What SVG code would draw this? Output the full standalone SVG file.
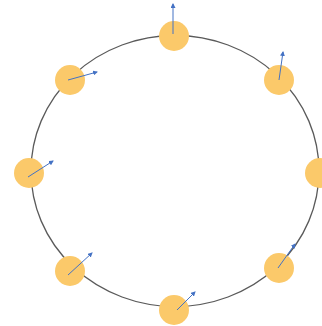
<svg xmlns="http://www.w3.org/2000/svg" width="322" height="326" viewBox="0 0 322 326">
<style>
.ring{fill:none;stroke:#5a5a5a;stroke-width:1.3}
.node{fill:#FBC96A;filter:url(#soft)}
.vec{stroke:#4472C4;stroke-width:1;fill:none;marker-end:url(#ah)}
</style>
<defs>
<filter id="soft" x="-20%" y="-20%" width="140%" height="140%"><feGaussianBlur stdDeviation="0.7"/></filter>
<marker id="ah" viewBox="0 0 10 10" refX="8" refY="5" markerWidth="5" markerHeight="5" orient="auto" markerUnits="userSpaceOnUse"><path d="M0,0 L10,5 L0,10 z" fill="#4472C4"/></marker>
</defs>
<rect width="322" height="326" fill="#fff"/>
<ellipse class="ring" cx="175" cy="171" rx="144" ry="135.5"/>
<g id="n-top"><circle class="node" cx="174" cy="36" r="15"/></g>
<g id="n-topleft"><circle class="node" cx="70" cy="80" r="15"/></g>
<g id="n-topright"><circle class="node" cx="279" cy="80" r="15"/></g>
<g id="n-left"><circle class="node" cx="29" cy="173" r="15"/></g>
<g id="n-right"><circle class="node" cx="320" cy="173" r="15"/></g>
<g id="n-bottomleft"><circle class="node" cx="70" cy="271" r="15"/></g>
<g id="n-bottom"><circle class="node" cx="174" cy="310" r="15"/></g>
<g id="n-bottomright"><circle class="node" cx="279" cy="268" r="15"/></g>
<g id="connectors">
<line class="vec" x1="173" y1="34" x2="173" y2="4"/>
<line class="vec" x1="68" y1="80" x2="97" y2="72"/>
<line class="vec" x1="279" y1="80" x2="283" y2="52"/>
<line class="vec" x1="28" y1="177" x2="53" y2="161"/>
<line class="vec" x1="68" y1="275" x2="92" y2="253"/>
<line class="vec" x1="177" y1="310" x2="195" y2="292"/>
<line class="vec" x1="278" y1="268" x2="295" y2="244"/>
</g>
</svg>
